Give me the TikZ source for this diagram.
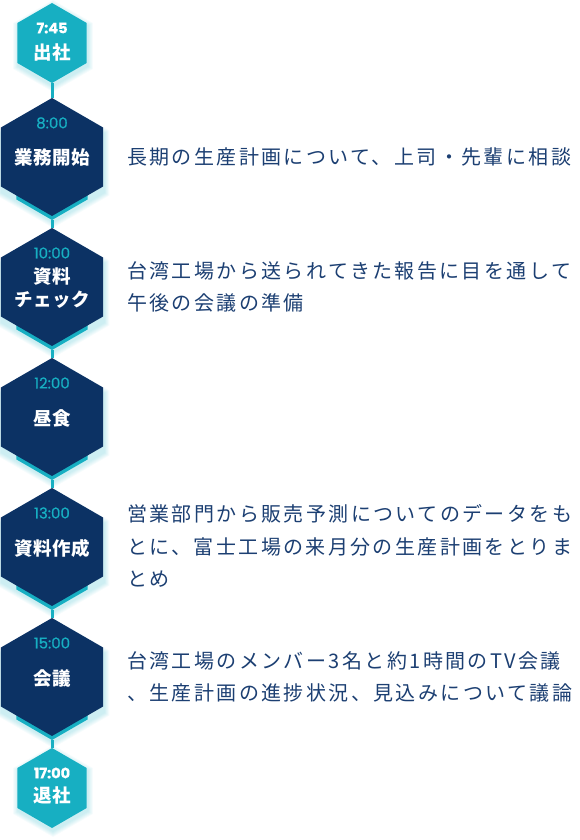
\documentclass[tikz,border=0pt]{standalone}
\usepackage{fontspec}
\usepackage{tikz}
\usetikzlibrary{shapes.geometric}
\setmainfont{Noto Sans CJK JP}
\newfontfamily\jpfont[LetterSpace=3]{Noto Sans CJK JP}
\newfontfamily\jpspaced[LetterSpace=12]{Noto Sans CJK JP}
\newfontfamily\timefont[FakeBold=0.6]{Poppins}
\definecolor{hexnavy}{HTML}{0C3264}
\definecolor{hexcyan}{HTML}{17AFC2}
\definecolor{memonavy}{HTML}{1C3F72}

\begin{document}
\begin{tikzpicture}[x=1pt, y=-1pt]
\tikzset{hexa/.style={regular polygon, regular polygon sides=6, shape border rotate=30, inner sep=0pt, outer sep=0pt, minimum size=#1},
  bighex/.style={hexa=118, fill=hexnavy},
  smallhex/.style={hexa=80, fill=hexcyan},
  backhex/.style={hexa=82, fill=hexcyan},
  glow/.style={hexa=#1, fill=hexcyan, fill opacity=0.04},
  timebig/.style={font=\timefont\fontsize{15}{16}\selectfont, text=hexcyan, inner sep=0pt},
  timesmall/.style={font=\timefont\bfseries\fontsize{14.5}{16}\selectfont, text=white, inner sep=0pt},
  hexlabel/.style={font=\jpfont\bfseries\fontsize{18.5}{23}\selectfont, text=white, align=center, inner sep=0pt},
  memo/.style={anchor=west, align=left, font=\jpspaced\fontsize{20}{32.5}\selectfont, text=memonavy, inner sep=0pt},
  link/.style={draw=hexcyan, line width=3pt}}
\useasboundingbox (0,0) rectangle (580,840);

% start and end of the day
\foreach \n/\c in {0/43, 6/788}
  \foreach \g in {1,...,6}
    \node[glow=80+2*\g] at (53,{\c+3}) {};
\node[smallhex] (h0) at (52,43) {};
\node[timesmall] (t0) at (52,28) {7:45};
\node[hexlabel] (l0) at (52,52) {出社};
\node[smallhex] (h6) at (52,788) {};
\node[timesmall] (t6) at (52,773) {17:00};
\node[hexlabel] (l6) at (52,795) {退社};

% working hours
\foreach \n/\c/\t/\lab in {1/157/8:00/業務開始, 2/287/10:00/{資料\\チェック}, 3/417/12:00/昼食, 4/547/13:00/資料作成, 5/677/15:00/会議} {
  \foreach \g in {1,...,6}
    \node[glow=118+2*\g] at (53,{\c+6}) {};
  \node[backhex] (b\n) at (52,{\c+22}) {};
  \node[bighex] (h\n) at (52,\c) {};
  \node[timebig] (t\n) at (52,{\c-34}) {\t};
  \node[hexlabel] (l\n) at (52,{\c+1}) {\lab};
}

\draw[link] (h0.south) -- (h1.north);
\draw[link] (b1.south) -- (h2.north);
\draw[link] (b2.south) -- (h3.north);
\draw[link] (b3.south) -- (h4.north);
\draw[link] (b4.south) -- (h5.north);
\draw[link] (b5.south) -- (h6.north);

\node[memo] (m1) at (127,157) {長期の生産計画について、上司・先輩に相談};
\node[memo] (m2) at (127,287) {台湾工場から送られてきた報告に目を通して\\午後の会議の準備};
\node[memo] (m4) at (127,546) {営業部門から販売予測についてのデータをも\\とに、富士工場の来月分の生産計画をとりま\\とめ};
\node[memo] (m5) at (127,677) {台湾工場のメンバー3名と約1時間のTV会議\\、生産計画の進捗状況、見込みについて議論};
\end{tikzpicture}
\end{document}
